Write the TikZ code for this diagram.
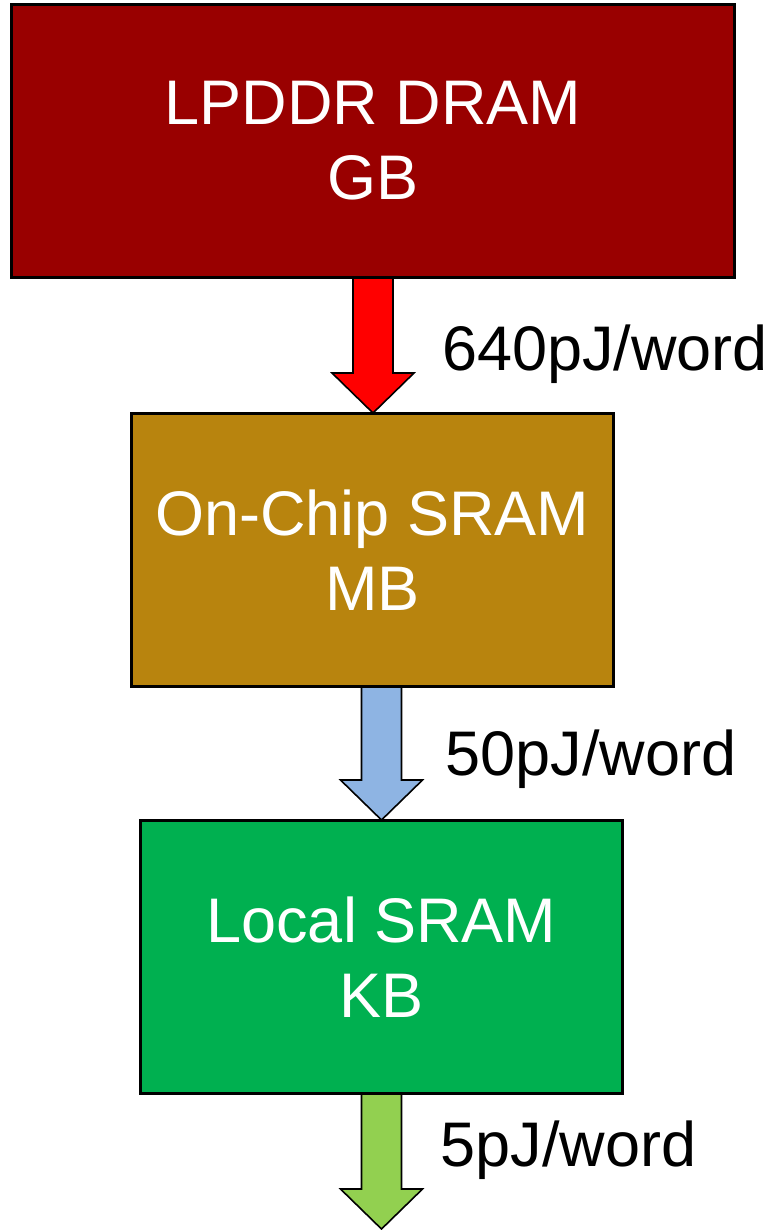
\documentclass[tikz,border=0pt]{standalone}
\usepackage{fontspec}
\setmainfont{Liberation Sans}
\definecolor{dramred}{RGB}{153,0,0}
\definecolor{sramgold}{RGB}{184,132,14}
\definecolor{localgreen}{RGB}{0,176,80}
\definecolor{arrowred}{RGB}{255,0,0}
\definecolor{arrowblue}{RGB}{142,180,227}
\definecolor{arrowgreen}{RGB}{146,208,80}
\tikzset{
  membox/.style={draw=black, line width=2pt, rectangle, text=white,
    align=center, inner sep=0pt, minimum height=272pt,
    font=\fontsize{63}{75}\selectfont},
  energy/.style={anchor=base west, inner sep=0pt, text=black,
    font=\fontsize{63}{75}\selectfont},
  blockarrow/.style={draw=black, line width=1.6pt, line join=miter}
}
% block arrow from the point #1 (top of shaft) down to the tip #2
\newcommand{\memarrow}[3]{%
  \draw[blockarrow, fill=#3]
    ([xshift=-20pt]#1) -- ([xshift=20pt]#1)
    -- ([xshift=20pt,yshift=40pt]#2) -- ([xshift=41pt,yshift=40pt]#2)
    -- (#2)
    -- ([xshift=-41pt,yshift=40pt]#2) -- ([xshift=-20pt,yshift=40pt]#2)
    -- cycle;}
\begin{document}
\begin{tikzpicture}[x=1pt,y=-1pt]
  \useasboundingbox (0,0) rectangle (776,1230);

  % memory levels
  \node[membox, fill=dramred, minimum width=722pt] (dram) at (373,141) {LPDDR DRAM\\GB};
  \node[membox, fill=sramgold, minimum width=481pt] (chip) at (372.5,550) {On-Chip SRAM\\MB};
  \node[membox, fill=localgreen, minimum width=481pt] (local) at (381.5,957) {Local SRAM\\KB};

  % arrow tips and shaft tops
  \coordinate (t1) at ([xshift=0.5pt]chip.north);
  \coordinate (s1) at (t1 |- dram.south);
  \coordinate (t2) at (local.north);
  \coordinate (s2) at (t2 |- chip.south);
  \coordinate (s3) at (local.south);
  \coordinate (t3) at (381.5,1229);

  % transfers between levels
  \memarrow{s1}{t1}{arrowred}
  \memarrow{s2}{t2}{arrowblue}
  \memarrow{s3}{t3}{arrowgreen}

  % box outlines over the arrow ends
  \draw[line width=2pt] (dram.south west) rectangle (dram.north east);
  \draw[line width=2pt] (chip.south west) rectangle (chip.north east);
  \draw[line width=2pt] (local.south west) rectangle (local.north east);

  % energy per word
  \node[energy] (e1) at (442,370) {640pJ/word};
  \node[energy] (e2) at (445.5,775) {50pJ/word};
  \node[energy] (e3) at (440.5,1166) {5pJ/word};
\end{tikzpicture}
\end{document}
